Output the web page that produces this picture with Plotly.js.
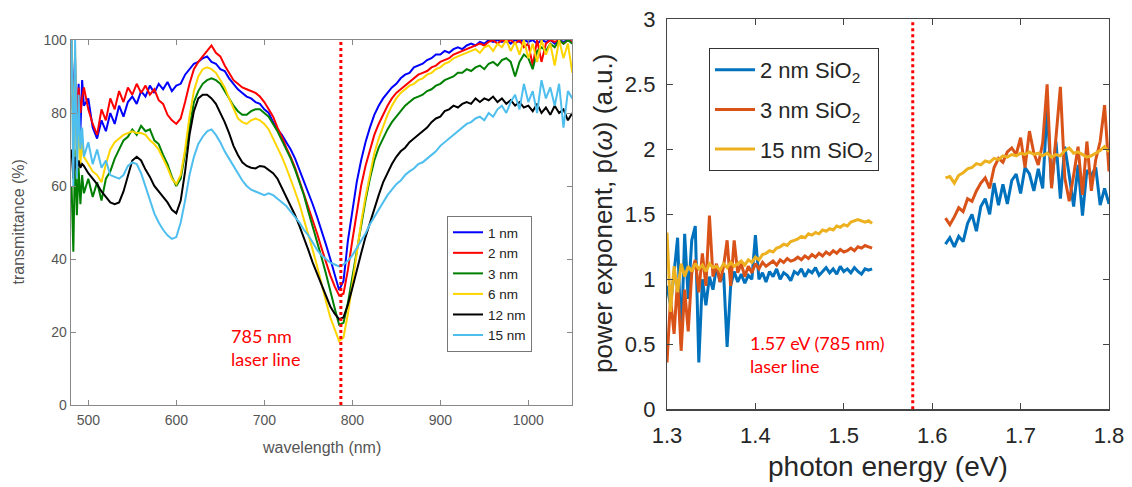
<!DOCTYPE html>
<html>
<head>
<meta charset="utf-8">
<script src="https://cdn.plot.ly/plotly-3.0.1.min.js"></script>
<style>html,body{margin:0;padding:0;background:#fff;}#chart{width:1132px;height:487px;}</style>
</head>
<body>
<div id="chart"></div>
<script>
// ---------- Left panel: transmittance vs wavelength ----------
const wavelength = [481,483,485,487,489,491,493,495,
500,505,510,515,520,525,530,535,540,545,
550,555,560,565,570,575,580,585,590,595,
600,605,610,615,620,625,630,635,640,645,
650,655,660,665,670,675,680,685,690,695,
700,705,710,715,720,725,730,735,740,745,
750,755,760,765,770,775,780,785,790,795,
800,805,810,815,820,825,830,835,840,845,
850,855,860,865,870,875,880,885,890,895,
900,905,910,915,920,925,930,935,940,945,
950,955,960,965,970,975,980,985,990,995,
1000,1005,1010,1015,1020,1025,1030,1035,1040,1045,1050];

const t1nm = [100,80,95,70,88,75,89,82,
84,76,73,78,75,80,77,82,79,83,
84.5,82.5,86,84.5,87.5,85.5,88,86.5,88.5,86,
87.5,88,90.5,92,93.5,94,95,95.5,94,93.5,
92,91.5,89.5,88,86.5,85.5,84.5,84,83,82.5,
81,80,77.5,75.5,74,72,70,67.5,64.5,61.5,
58,55,51.5,48,44,40,35.5,31.5,34,45,
53,61,67,72,76,79.5,82,84,85.5,87,
88,89.5,90.5,91,92.5,93,93.5,94.5,95,96,
96,97,96.5,97.5,98,97.5,98.5,99,98.5,99.5,
99,100,99.5,100,99.5,100,99,100,99.5,100,
99.5,100,99,100,99.5,100,99,100,99.5,100,99.5];

const t2nm = [85,78,91,74,87,80,84,87,
81,77,74,81,78,84,81,86,83,87,
85,88,85.5,87.5,85,86.5,83.5,82.5,79.5,78,
77,78.5,83,88,92,94,95.5,97,98.5,96.5,
95.5,93,91,89,88,87,86.5,86,85.5,84.5,
83,81,79,76,73.5,70.5,68,65,61.5,58,
54.5,51,47,43,39,35.5,32.5,30,30.5,37,
45,53,60,65.5,70,74,77,79.5,82,84,
85.5,86.5,87.5,88.5,89.5,90.5,91,91.5,92.5,93,
94,94.5,95,96,96.5,97,97.5,98,98.5,99,
98.5,99.5,100,99,100,99.5,100,99,100,98,
99,93,100,94,99,100,99.5,100,99,100,99.5];

const t3nm = [60,42,70,52,65,55,63,58,
62,57,61,56,62,64,67.5,70,72.5,73.5,
75.5,74,76.5,75,75.5,72.5,71.5,68.5,66,62.5,
60,62,69,77,83,86,88,89,89.5,89,
88,86,84,82,80.5,79.5,79.5,80.5,81,81,
80,79,77,75,72.5,70,67.5,64.5,61,57.5,
53,49,45,40.5,36,31,26.5,22,22.5,28,
35,43,50,56,62,67,70.5,73,75.5,77.5,
79,80.5,82,83,84,84.5,85,86,86.5,87.5,
88,89,89.5,90,91,91,92,91.5,92.5,93,
92,93.5,94,93,94.5,95,94,90,94,96,
95,92,97,98,97,99,98,100,99,100,99];

const t6nm = [100,65,98,62,80,66,72,68,
66,64,63,61,66,70,72,73,74,74.5,
75,74.5,74.5,74,72.5,71.5,70,67.5,65,62,
60.5,63,70,79,86,90,92,92.5,92,91,
89,87,84,81,78.5,77.5,77,78,78.5,78,
77,75.5,73,70.5,68,65,62,58.5,55,51,
47,42.5,38,33,28.5,24,20.5,17.5,18.5,25,
33,42,50,57,63,69,73,76.5,79.5,82,
84,85.5,86.5,87.5,88,89,89.5,90.5,91,92,
92.5,93.5,94,95,95.5,96,96.5,97,97.5,96.5,
98,98.5,97,99,98,100,97,99.5,96,100,
95,99,94,100,96,99,93,100,95,99,91];

const t12nm = [70,62,68,64,67,65,66,65.5,
63.5,62,60.5,58.5,57,55.5,55,55.5,58.5,63,
67,68,67,64.5,62.5,60,58.5,57,55.5,53.5,
52.5,56,64,74,80.5,84,85,85,84,82.5,
80,77.5,74.5,71,68.5,66.5,65.5,65,64.8,65.5,
65.3,64.5,63.5,62,59.5,57,54.5,52,49,46,
42.5,39,36,32.5,29.5,27,25,23.5,24,27.5,
32,37,41.5,46,50,54,57.5,61,63.5,66,
68,69.5,70.5,72,73,74,75,76,77.5,78.5,
79,80.5,81,82,81.5,82.5,83,82.5,84,83,
84,83.5,84.5,83,84,82.5,83.5,82,83,81.5,
82,80.5,82.5,80,81.5,79.5,82,80,81,78,80];

const t15nm = [100,60,100,62,85,70,76,68,
72,66,70,65,67,63,62.5,62,63,65.5,
66.5,66,63.5,60,56,52.5,50,48,46.5,45.5,
46,50,56,63,68,71.5,73.5,75,75.5,74,
72,69.5,67.5,65.5,63.5,61.5,60,59,58.5,58,
57.5,58,57.5,56.5,55.5,54.5,53,51.5,50,48,
46.5,44.5,42.5,41,40,39,38.5,38,38.5,39.5,
41,43,45,47,49.5,51.5,53.5,55.5,57.5,59,
60.5,61.5,63,64,64.8,66,66.5,67.5,68.5,69.5,
71,72,73,74,75,76,77,77.5,78.5,79,
78,80,79,81,82,80,83,85,81,88,
83,86,80,89,84,87,82,88,76,86,84];

const leftNames = ['1 nm','2 nm','3 nm','6 nm','12 nm','15 nm'];
const leftColors = ['#0000FF','#FF0000','#008000','#FFD500','#000000','#4DBEEE'];
const leftSeries = [t1nm,t2nm,t3nm,t6nm,t12nm,t15nm];
const laserNm = 787;

// ---------- Right panel: power exponent vs photon energy ----------
const energy = [1.300,1.304,1.308,1.312,1.316,1.320,1.324,1.328,1.332,1.336,
1.340,1.344,1.348,1.352,1.356,1.360,1.364,1.368,1.372,1.376,
1.380,1.384,1.388,1.392,1.396,1.400,1.404,1.408,1.412,1.416,
1.420,1.424,1.428,1.432,1.436,1.440,1.444,1.448,1.452,1.456,
1.460,1.464,1.468,1.472,1.476,1.480,1.484,1.488,1.492,1.496,
1.500,1.504,1.508,1.512,1.516,1.520,1.524,1.528,1.532,
1.575,
1.615,1.620,1.625,1.630,1.635,1.640,1.645,1.650,1.655,1.660,
1.665,1.670,1.675,1.680,1.685,1.690,1.695,1.700,1.705,1.710,
1.715,1.720,1.725,1.730,1.735,1.740,1.745,1.750,1.755,1.760,
1.765,1.770,1.775,1.780,1.785,1.790,1.795,1.800];

const p2nm = [0.95,0.80,1.05,1.32,0.50,1.35,0.85,1.30,1.41,0.36,
1.00,0.80,1.02,0.92,1.10,0.98,1.05,0.48,0.95,1.06,
0.98,1.04,0.97,1.03,1.00,1.34,1.00,1.05,0.98,1.06,
1.02,1.08,1.00,1.05,1.03,0.99,1.06,1.04,1.08,1.02,
1.07,1.05,1.09,1.03,1.06,1.09,1.05,1.08,1.04,1.10,
1.06,1.08,1.05,1.09,1.06,1.04,1.08,1.07,1.08,
null,
1.27,1.32,1.25,1.33,1.29,1.43,1.50,1.37,1.56,1.62,
1.50,1.74,1.57,1.73,1.58,1.76,1.81,1.66,1.86,1.81,
1.68,1.85,1.70,2.32,1.72,2.06,1.62,2.02,1.80,1.56,
1.88,1.49,1.84,1.80,1.86,1.57,1.70,1.58];

const p3nm = [0.36,0.85,0.58,1.00,0.45,0.92,0.60,1.05,1.15,0.90,
1.20,0.95,1.49,1.02,1.12,0.98,1.10,1.30,0.95,1.30,
1.05,1.12,1.02,1.10,1.05,1.12,1.08,1.13,1.10,1.12,
1.14,1.11,1.15,1.13,1.16,1.14,1.15,1.17,1.15,1.18,
1.16,1.19,1.17,1.20,1.18,1.21,1.19,1.22,1.20,1.23,
1.21,1.22,1.24,1.22,1.25,1.24,1.26,1.25,1.24,
null,
1.47,1.42,1.48,1.55,1.52,1.62,1.60,1.68,1.74,1.78,
1.70,1.86,1.93,1.90,1.98,2.01,1.96,2.09,1.86,2.14,
1.97,1.88,2.05,2.50,1.70,2.10,2.48,1.78,1.60,1.80,
2.02,1.65,2.06,1.68,1.92,2.06,2.34,1.83];

const p15nm = [1.36,0.75,1.10,0.90,1.12,1.02,1.10,1.06,1.12,1.08,
1.11,1.06,1.12,1.09,1.10,1.07,1.12,1.09,1.13,1.10,
1.12,1.14,1.11,1.15,1.13,1.17,1.15,1.19,1.20,1.22,
1.21,1.24,1.25,1.27,1.26,1.29,1.30,1.31,1.33,1.32,
1.35,1.34,1.36,1.35,1.38,1.37,1.39,1.38,1.41,1.40,
1.42,1.41,1.44,1.45,1.46,1.45,1.44,1.45,1.43,
null,
1.78,1.79,1.74,1.80,1.82,1.85,1.86,1.89,1.88,1.91,
1.90,1.93,1.92,1.95,1.94,1.96,1.95,1.97,1.96,1.98,
1.96,1.97,1.95,1.97,1.94,1.96,1.95,1.99,2.01,1.97,
1.98,1.96,1.94,1.95,1.97,1.99,2.02,1.98];

const rightNames = ['2 nm SiO<sub>2</sub>','3 nm SiO<sub>2</sub>','15 nm SiO<sub>2</sub>'];
const rightColors = ['#0072BD','#D95319','#EDB120'];
const rightSeries = [p2nm,p3nm,p15nm];
const laserEv = 1.578;

// ---------- traces ----------
const traces = [];
leftSeries.forEach((s,i)=>{
  traces.push({x:wavelength, y:s, type:'scatter', mode:'lines', name:leftNames[i],
    line:{color:leftColors[i], width:2}, xaxis:'x', yaxis:'y', legend:'legend',
    legendgroup:'L'+i, showlegend:true});
});
rightSeries.forEach((s,i)=>{
  traces.push({x:energy, y:s, type:'scatter', mode:'lines', name:rightNames[i],
    line:{color:rightColors[i], width:3}, xaxis:'x2', yaxis:'y2', legend:'legend2',
    legendgroup:'R'+i, connectgaps:false, showlegend:true});
});

const W = 1132, H = 487;
const px = v => v/W, py = v => 1 - v/H;
const lf = {family:'Liberation Sans, Arial, sans-serif', size:14, color:'#555'};
const rf = {family:'Liberation Sans, Arial, sans-serif', size:22, color:'#262626'};

const layout = {
  width:W, height:H, margin:{l:0,r:0,t:0,b:0,autoexpand:false},
  paper_bgcolor:'#fff', plot_bgcolor:'#fff', showlegend:true,
  xaxis:{domain:[px(70.7),px(572.3)], range:[480,1050], tickvals:[500,600,700,800,900,1000],
    ticks:'inside', ticklen:5, tickcolor:'#888', showline:true, linecolor:'#888', linewidth:1,
    mirror:'ticks', showgrid:false, zeroline:false, tickfont:lf, anchor:'y', ticklabelstandoff:2},
  yaxis:{domain:[1-405/H,1-40/H], range:[0,100], tickvals:[0,20,40,60,80,100],
    ticks:'inside', ticklen:5, tickcolor:'#888', showline:true, linecolor:'#888', linewidth:1,
    mirror:'ticks', showgrid:false, zeroline:false, tickfont:lf, anchor:'x'},
  xaxis2:{domain:[px(667),px(1109)], range:[1.3,1.8], tickvals:[1.3,1.4,1.5,1.6,1.7,1.8],
    ticks:'inside', ticklen:6, tickcolor:'#444', showline:true, linecolor:'#444', linewidth:1.2,
    mirror:'ticks', showgrid:false, zeroline:false, tickfont:rf, anchor:'y2', ticklabelstandoff:6},
  yaxis2:{domain:[1-409.3/H,1-19.3/H], range:[0,3], tickvals:[0,0.5,1,1.5,2,2.5,3],
    ticks:'inside', ticklen:6, tickcolor:'#444', showline:true, linecolor:'#444', linewidth:1.2,
    mirror:'ticks', showgrid:false, zeroline:false, tickfont:rf, anchor:'x2', ticklabelstandoff:6},
  legend:{x:px(447), y:py(216), xanchor:'left', yanchor:'top', bgcolor:'#fff',
    bordercolor:'#777', borderwidth:1, font:{family:'Liberation Sans, Arial, sans-serif', size:13.5, color:'#222'},
    traceorder:'normal', tracegroupgap:0, itemwidth:30},
  legend2:{x:px(709), y:py(48), xanchor:'left', yanchor:'top', bgcolor:'#fff',
    bordercolor:'#333', borderwidth:1, font:{family:'Liberation Sans, Arial, sans-serif', size:22, color:'#262626'},
    traceorder:'grouped', tracegroupgap:8, itemwidth:40},
  shapes:[
    {type:'line', xref:'x', yref:'y', x0:laserNm, x1:laserNm, y0:0, y1:100,
      line:{color:'#FF0000', width:3, dash:'dot'}},
    {type:'line', xref:'x2', yref:'y2', x0:laserEv, x1:laserEv, y0:0, y1:3,
      line:{color:'#FF0000', width:3, dash:'dot'}}
  ],
  annotations:[
    {text:'wavelength (nm)', xref:'paper', yref:'paper', x:px(321.5), y:py(447), showarrow:false,
      font:{family:'Liberation Sans, Arial, sans-serif', size:16, color:'#555'}, xanchor:'center', yanchor:'middle'},
    {text:'transmittance (%)', xref:'paper', yref:'paper', x:px(18), y:py(222.5), showarrow:false, textangle:-90,
      font:{family:'Liberation Sans, Arial, sans-serif', size:16, color:'#555'}, xanchor:'center', yanchor:'middle'},
    {text:'photon energy (eV)', xref:'paper', yref:'paper', x:px(888), y:py(466), showarrow:false,
      font:{family:'Liberation Sans, Arial, sans-serif', size:28, color:'#262626'}, xanchor:'center', yanchor:'middle'},
    {text:'power exponent, p(<i>ω</i>) (a.u.)', xref:'paper', yref:'paper', x:px(603), y:py(214), showarrow:false, textangle:-90,
      font:{family:'Liberation Sans, Arial, sans-serif', size:26, color:'#262626'}, xanchor:'center', yanchor:'middle'},
    {text:'785 nm<br>laser line', xref:'paper', yref:'paper', x:px(229), y:py(347.5), showarrow:false, align:'left',
      font:{family:'Lato, Open Sans, sans-serif', size:18, color:'#FF0000'}, xanchor:'left', yanchor:'middle'},
    {text:'1.57 eV (785 nm)<br>laser line', xref:'paper', yref:'paper', x:px(748), y:py(354.5), showarrow:false, align:'left',
      font:{family:'Lato, Open Sans, sans-serif', size:18, color:'#FF0000'}, xanchor:'left', yanchor:'middle'}
  ]
};

Plotly.newPlot('chart', traces, layout, {displayModeBar:false, staticPlot:true});
</script>
</body>
</html>
